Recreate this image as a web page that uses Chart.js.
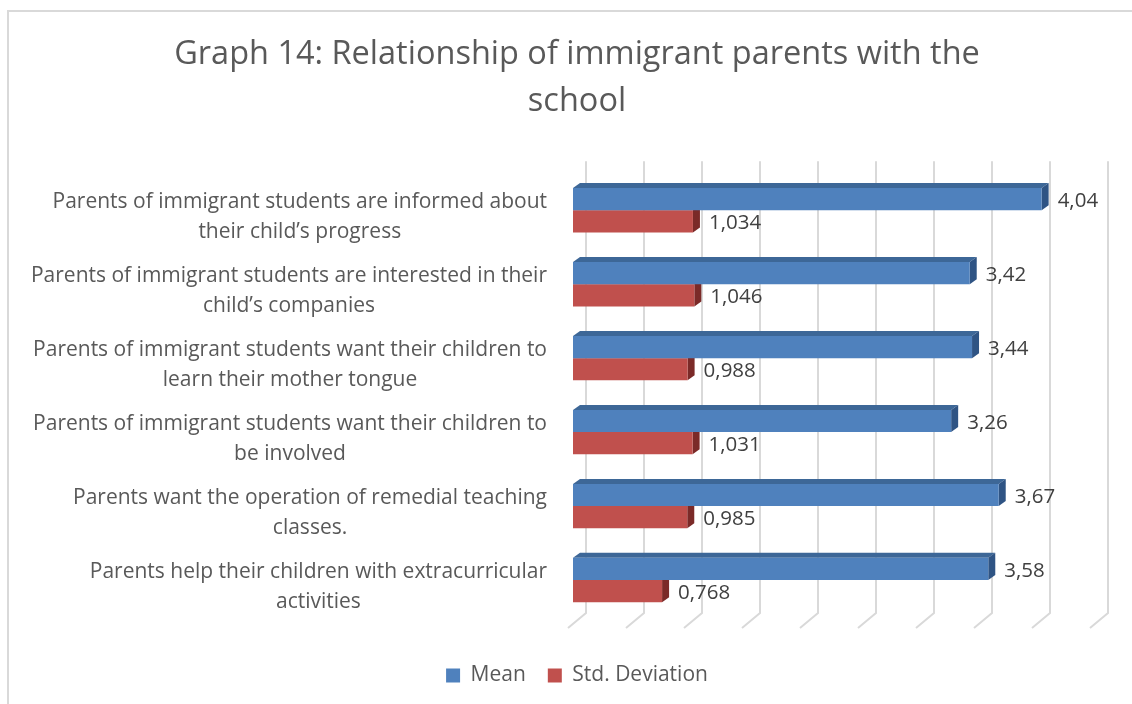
<!DOCTYPE html>
<html lang="en">
<head>
<meta charset="UTF-8">
<title>Graph 14</title>
<script src="https://cdn.jsdelivr.net/npm/chart.js"></script>
<style>
  html, body { margin: 0; padding: 0; background: #ffffff; }
</style>
</head>
<body>
<canvas id="graph14" width="1132" height="704"></canvas>

<script>
// questionnaire items, one entry per row (already split into two lines)
const categories = [
    ['Parents of immigrant students are informed about', 'their child’s progress'],
    ['Parents of immigrant students are interested in their', 'child’s companies'],
    ['Parents of immigrant students want their children to', 'learn their mother tongue'],
    ['Parents of immigrant students want their children to', 'be involved'],
    ['Parents want the operation of remedial teaching', 'classes.'],
    ['Parents help their children with extracurricular', 'activities']
];
const meanValues = [4.04, 3.42, 3.44, 3.26, 3.67, 3.58];
const stdValues = [1.034, 1.046, 0.988, 1.031, 0.985, 0.768];
const axisMin = 0;
const axisMax = 4.5;
const axisStep = 0.5;

// depth of the bars and of the floor
const barDx = 7, barDy = 5;
const FONT = '"Open Sans", Lato, sans-serif';

function fmt(v) {
    return String(v).replace('.', ',');
}

const fakeDepth = {
    id: 'fakeDepth',
    beforeDraw(chart) {
        const ctx = chart.ctx;
        ctx.save();
        ctx.strokeStyle = '#d9d9d9';
        ctx.lineWidth = 2;
        ctx.strokeRect(8, 11, 1400, 1000);
        ctx.restore();
    },
    beforeDatasetsDraw(chart) {
        const ctx = chart.ctx;
        const area = chart.chartArea;
        const x = chart.scales.x;
        ctx.save();
        // back wall gridlines + floor
        ctx.strokeStyle = '#d9d9d9';
        ctx.lineWidth = 2;
        for (let v = axisMin; v <= axisMax + 1e-9; v += axisStep) {
            const px = x.getPixelForValue(v);
            ctx.beginPath();
            ctx.moveTo(px + 13, area.top - 12);
            ctx.lineTo(px + 13, area.bottom - 4);
            ctx.lineTo(px - 5, area.bottom + 11);
            ctx.stroke();
        }
        // top and side faces of every bar
        chart.data.datasets.forEach((ds, i) => {
            chart.getDatasetMeta(i).data.forEach(bar => {
                const p = bar.getProps(['x', 'y', 'base', 'height'], true);
                const left = p.base, right = p.x;
                const top = p.y - p.height / 2, bottom = p.y + p.height / 2;
                ctx.fillStyle = ds.topColor;
                ctx.beginPath();
                ctx.moveTo(left, top);
                ctx.lineTo(left + barDx, top - barDy);
                ctx.lineTo(right + barDx, top - barDy);
                ctx.lineTo(right, top);
                ctx.closePath();
                ctx.fill();
                ctx.fillStyle = ds.sideColor;
                ctx.beginPath();
                ctx.moveTo(right, top);
                ctx.lineTo(right + barDx, top - barDy);
                ctx.lineTo(right + barDx, bottom - barDy);
                ctx.lineTo(right, bottom);
                ctx.closePath();
                ctx.fill();
            });
        });
        ctx.restore();
    },
    afterDatasetsDraw(chart) {
        const ctx = chart.ctx;
        ctx.save();
        // value labels
        ctx.font = '20.5px ' + FONT;
        ctx.fillStyle = '#404040';
        ctx.textAlign = 'left';
        ctx.textBaseline = 'middle';
        chart.data.datasets.forEach((ds, i) => {
            chart.getDatasetMeta(i).data.forEach((bar, j) => {
                ctx.fillText(fmt(ds.data[j]), bar.x + barDx + 9, bar.y + 2);
            });
        });
        // category labels, each centred on its own widest line
        const y = chart.scales.y;
        ctx.font = '21px ' + FONT;
        ctx.fillStyle = '#595959';
        ctx.textAlign = 'center';
        const rightEdge = chart.chartArea.left - 26;
        categories.forEach((lines, i) => {
            const cy = y.getPixelForTick(i) + 7;
            const w = Math.max(...lines.map(t => ctx.measureText(t).width));
            const cx = rightEdge - w / 2;
            lines.forEach((t, k) => {
                ctx.fillText(t, cx, cy + (k - (lines.length - 1) / 2) * 30);
            });
        });
        ctx.restore();
    }
};

Chart.defaults.font.family = FONT;
Chart.defaults.color = '#595959';

new Chart(document.getElementById('graph14'), {
    type: 'bar',
    data: {
        labels: categories,
        datasets: [{
            label: 'Mean',
            data: meanValues,
            backgroundColor: '#4f81bd',
            topColor: '#3d6797',
            sideColor: '#2f5484'
        }, {
            label: 'Std. Deviation',
            data: stdValues,
            backgroundColor: '#c0504d',
            topColor: '#963c3a',
            sideColor: '#7b2a28'
        }]
    },
    options: {
        indexAxis: 'y',
        responsive: false,
        animation: false,
        layout: { padding: { top: 22, left: 59, right: 37, bottom: 8 } },
        datasets: {
            bar: { categoryPercentage: 0.6, barPercentage: 1.0 }
        },
        scales: {
            x: {
                min: axisMin,
                max: axisMax,
                ticks: { display: false, stepSize: axisStep },
                grid: { display: false },
                border: { display: false },
                afterFit: s => { s.height = 26; }
            },
            y: {
                ticks: { display: false },
                grid: { display: false },
                border: { display: false },
                afterFit: s => { s.width = 514; }
            }
        },
        plugins: {
            title: {
                display: true,
                text: ['Graph 14: Relationship of immigrant parents with the', 'school'],
                color: '#595959',
                font: { size: 32.5, weight: 'normal', lineHeight: 1.45 },
                padding: { top: 9, bottom: 48 }
            },
            legend: {
                position: 'bottom',
                labels: {
                    boxWidth: 14,
                    boxHeight: 14,
                    padding: 22,
                    color: '#595959',
                    font: { size: 21 }
                }
            },
            tooltip: { enabled: false }
        }
    },
    plugins: [fakeDepth]
});
</script>
</body>
</html>
